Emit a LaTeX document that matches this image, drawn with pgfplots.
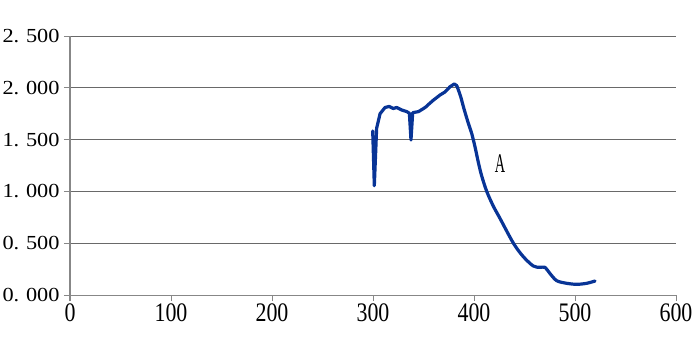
\documentclass[border=0pt]{standalone}
\usepackage{fontspec}
\setmainfont{Liberation Serif}
\usepackage{graphicx}
\usepackage{pgfplots}
\pgfplotsset{compat=1.18}
\definecolor{curve}{RGB}{8,52,150}
\definecolor{gridc}{RGB}{105,105,105}
\definecolor{axc}{RGB}{135,135,135}
\newcommand\xfont{\fontsize{22}{22}\selectfont}
\newcommand\yfont{\fontsize{20}{20}\selectfont}
\newcommand\xl[1]{\scalebox{1}[1.22]{#1}}
\newcommand\yl[2]{\scalebox{1.12}[1]{#1.\hspace{.3em}#2}}
\begin{document}
\begin{tikzpicture}
\begin{axis}[
  scale only axis, width=606bp, height=259bp,
  xmin=0, xmax=600, ymin=0, ymax=2.5,
  axis x line=bottom, axis y line=left,
  x axis line style={-, draw=axc, line width=1bp},
  y axis line style={-, draw=axc, line width=1bp},
  xtick={0,100,200,300,400,500,600},
  xticklabels={\xl{0},\xl{100},\xl{200},\xl{300},\xl{400},\xl{500},\xl{600}},
  ytick={0,0.5,1,1.5,2,2.5},
  yticklabels={\yl{0}{000},\yl{0}{500},\yl{1}{000},\yl{1}{500},\yl{2}{000},\yl{2}{500}},
  tick align=outside,
  major tick length=6bp,
  tick style={draw=axc, line width=1bp},
  ymajorgrids,
  major grid style={draw=gridc, line width=1bp},
  xticklabel style={font=\xfont, text=black, inner sep=1bp, yshift=-1.5bp},
  yticklabel style={font=\yfont, text=black, xshift=-1bp},
  clip=false,
]
\addplot[curve, line width=3.2bp, line join=round, line cap=round] coordinates {
(299.7,1.583) (301.3,1.055) (303.6,1.61) (307,1.75) (311.9,1.81) (316,1.82)
(320,1.80) (323.4,1.81) (328.4,1.786) (333.4,1.77) (336,1.755) (337.6,1.496)
(339.3,1.76) (345,1.77) (350,1.80) (353,1.82) (355,1.84) (359.7,1.88) (366.3,1.93)
(371.3,1.96) (376.2,2.01) (380.5,2.037) (383,2.02)
};
\addplot[curve, line width=3.2bp, line join=round, line cap=round, smooth, tension=0.5] coordinates {
(383,2.02) (384.5,1.98) (386.8,1.915) (390,1.80) (394.4,1.657) (397.7,1.56)
(401,1.43) (404.3,1.28) (407.6,1.15) (412.6,1.00) (419,0.86)
(425.7,0.74) (439,0.50) (448.8,0.37) (458.7,0.28) (465.3,0.267) (470.3,0.267)
(475,0.21) (481.9,0.138) (491.8,0.113) (501.7,0.103) (511.6,0.113) (519.8,0.135)
};
\node[font=\yfont] at (axis cs:425.7,1.264) {\scalebox{0.72}[1.35]{A}};
\coordinate (ll) at (rel axis cs:0,0);
\coordinate (ur) at (rel axis cs:1,1);
\end{axis}
\pgfresetboundingbox
\path ([shift={(-70bp,-42bp)}]ll) rectangle ([shift={(24bp,36bp)}]ur);
\end{tikzpicture}
\end{document}
